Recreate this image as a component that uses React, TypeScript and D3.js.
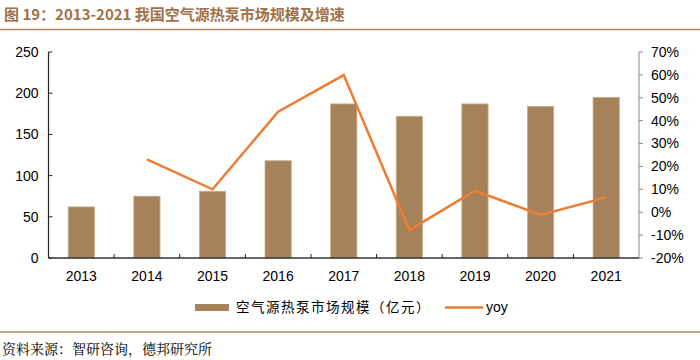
import React from "react";
import * as d3 from "d3";

const years = ["2013", "2014", "2015", "2016", "2017", "2018", "2019", "2020", "2021"];
const marketSize = [62, 75, 81, 118, 187, 172, 187, 184, 195];
const yoyYears = ["2014", "2015", "2016", "2017", "2018", "2019", "2020", "2021"];
const yoyValues = [23.1, 10.0, 43.9, 59.9, -7.8, 9.4, -1.2, 6.5];
const leftTicks = [0, 50, 100, 150, 200, 250];
const rightTicks = [-20, -10, 0, 10, 20, 30, 40, 50, 60, 70];

const W = 700;
const H = 360;
const left = 48.5;
const right = 639;
const top = 52;
const bottom = 258;
const font = "'Liberation Sans', Arial, sans-serif";

export default function App() {
  const x = d3.scaleBand<string>().domain(years).range([left, right]).paddingInner(0.6).paddingOuter(0.3);
  const xc = (d: string) => (x(d) as number) + x.bandwidth() / 2;
  const step = (right - left) / years.length;
  const yL = d3.scaleLinear().domain([0, 250]).range([bottom, top]);
  const yR = d3.scaleLinear().domain([-20, 70]).range([bottom, top]);
  const line = d3
    .line<number>()
    .x((_, i) => xc(yoyYears[i]))
    .y((d) => yR(d));

  return (
    <svg width={W} height={H} style={{ position: "absolute", left: 0, top: 0 }}>
      <rect width={W} height={H} fill="#fff" />
      <text x={4} y={20} fontFamily="'Noto Sans CJK SC', sans-serif" fontWeight="bold" fontSize={15} fill="#A0714A">
        图 19：2013-2021 我国空气源热泵市场规模及增速
      </text>
      <line x1={0} x2={700} y1={29.5} y2={29.5} stroke="#B08A66" strokeWidth={1.5} />

      {years.map((d, i) => (
        <rect
          key={d}
          x={x(d)}
          y={yL(marketSize[i])}
          width={x.bandwidth()}
          height={bottom - yL(marketSize[i])}
          fill="#A6825A"
          stroke="#C9AE8E"
          strokeWidth={0.8}
        />
      ))}

      {/* left axis */}
      <line x1={left} x2={left} y1={top} y2={bottom} stroke="#222" strokeWidth={1.2} />
      {leftTicks.map((t) => (
        <g key={t}>
          <line x1={left} x2={left + 4} y1={yL(t)} y2={yL(t)} stroke="#222" />
          <text x={left - 10} y={yL(t)} dy="0.35em" textAnchor="end" fontFamily={font} fontSize={14} fill="#000">
            {t}
          </text>
        </g>
      ))}

      {/* right axis */}
      <line x1={right} x2={right} y1={top} y2={bottom} stroke="#888" strokeWidth={1} />
      {rightTicks.map((t) => (
        <g key={t}>
          <line x1={right} x2={right + 4} y1={yR(t)} y2={yR(t)} stroke="#888" />
          <text x={right + 12} y={yR(t)} dy="0.35em" textAnchor="start" fontFamily={font} fontSize={14} fill="#000">
            {t + "%"}
          </text>
        </g>
      ))}

      {/* bottom axis */}
      <line x1={left} x2={right} y1={bottom} y2={bottom} stroke="#333" strokeWidth={1.5} />
      {d3.range(1, years.length).map((i) => (
        <line key={i} x1={left + step * i} x2={left + step * i} y1={bottom} y2={bottom - 4} stroke="#222" />
      ))}
      {years.map((d) => (
        <text key={d} x={xc(d)} y={281} textAnchor="middle" fontFamily={font} fontSize={14} fill="#000">
          {d}
        </text>
      ))}

      <path d={line(yoyValues) as string} fill="none" stroke="#ED7D31" strokeWidth={2.5} />

      {/* legend */}
      <rect x={195} y={304} width={34} height={7} fill="#A6825A" />
      <text x={236} y={312} fontFamily="'Noto Sans CJK SC', sans-serif" fontSize={13.5} fill="#000" letterSpacing={1.5}>
        空气源热泵市场规模（亿元）
      </text>
      <line x1={445} x2={483} y1={307.5} y2={307.5} stroke="#ED7D31" strokeWidth={2.5} />
      <text x={486} y={312} fontFamily={font} fontSize={14} fill="#000">
        yoy
      </text>

      <line x1={0} x2={700} y1={332} y2={332} stroke="#B08A66" strokeWidth={1.5} />
      <text x={2} y={354} fontFamily="'Noto Serif CJK SC', 'Noto Sans CJK SC', serif" fontSize={14} fill="#000">
        资料来源：智研咨询，德邦研究所
      </text>
    </svg>
  );
}
